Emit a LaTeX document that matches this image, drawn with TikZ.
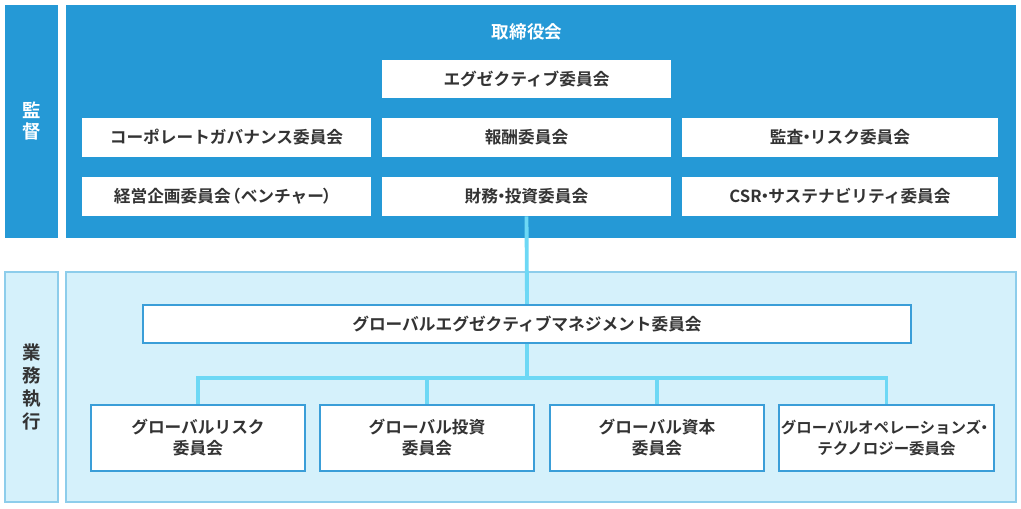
\documentclass[tikz,border=0pt]{standalone}
\usepackage{fontspec}
\setmainfont{Noto Sans CJK JP}[BoldFont={Noto Sans CJK JP Bold}]
\usetikzlibrary{positioning}
\definecolor{topblue}{HTML}{2599D6}
\definecolor{paleblue}{HTML}{D5F1FB}
\definecolor{paleedge}{HTML}{8DCDEB}
\definecolor{boxedge}{HTML}{3A9ED8}
\definecolor{linkcyan}{HTML}{6DD8F5}
\definecolor{txt}{HTML}{333333}
\tikzset{
	whitebox/.style={fill=white,draw=none,inner sep=0pt,text=txt,align=center,font=\bfseries\fontsize{9.5}{12}\selectfont},
	lowbox/.style={fill=white,draw=boxedge,line width=1.2pt,inner sep=0pt,text=txt,align=center,font=\bfseries\fontsize{9.5}{12}\selectfont},
	link/.style={draw=linkcyan,line width=2.2pt}
}
\begin{document}
\begin{tikzpicture}[x=0.02cm,y=-0.02cm]

	\useasboundingbox (0,0) rectangle (1021,508);

	% supervision
	\fill[topblue] (5,5) rectangle (58,238);
	\fill[topblue] (66,5) rectangle (1016,238);
	\node[text=white,align=center,font=\bfseries\fontsize{10.5}{12}\selectfont] (kantoku) at (31.5,121) {監\\督};
	\node[text=white,font=\bfseries\fontsize{10}{12}\selectfont] (board) at (527,32) {取締役会};

	\node[whitebox,minimum width=289*0.02cm,minimum height=38*0.02cm] (exec) at (526.5,79) {エグゼクティブ委員会};

	\node[whitebox,minimum width=289*0.02cm,minimum height=39*0.02cm] (cg) at (226.5,137.5) {コーポレートガバナンス委員会};
	\node[whitebox,minimum width=289*0.02cm,minimum height=39*0.02cm] (comp) at (526.5,137.5) {報酬委員会};
	\node[whitebox,minimum width=316*0.02cm,minimum height=39*0.02cm] (audit) at (840,137.5) {監査\hspace{-0.3em}・\hspace{-0.3em}リスク委員会};
	\node[whitebox,minimum width=289*0.02cm,minimum height=39*0.02cm] (plan) at (226.5,196.5) {経営企画委員会\hspace{-0.4em}（ベンチャー\hspace{-0.1em}）};
	\node[whitebox,minimum width=289*0.02cm,minimum height=39*0.02cm] (fin) at (526.5,196.5) {財務\hspace{-0.3em}・\hspace{-0.3em}投資委員会};
	\node[whitebox,minimum width=316*0.02cm,minimum height=39*0.02cm] (csr) at (840,196.5) {CSR\hspace{-0.3em}・\hspace{-0.3em}サステナビリティ委員会};

	% execution
	\draw[fill=paleblue,draw=paleedge,line width=0.8pt] (5,272) rectangle (58,502);
	\draw[fill=paleblue,draw=paleedge,line width=0.8pt] (66,272) rectangle (1016,502);
	\node[text=txt,align=center,font=\bfseries\fontsize{10.5}{13}\selectfont] (gyomu) at (31.5,387) {業\\務\\執\\行};

	\node[lowbox,minimum width=768*0.02cm,minimum height=38*0.02cm] (gemc) at (527,324) {グローバルエグゼクティブマネジメント委員会};

	\node[lowbox,minimum width=214*0.02cm,minimum height=66*0.02cm] (risk) at (198,438) {グローバルリスク\\委員会};
	\node[lowbox,minimum width=214*0.02cm,minimum height=66*0.02cm] (inv) at (427,438) {グローバル投資\\委員会};
	\node[lowbox,minimum width=214*0.02cm,minimum height=66*0.02cm] (cap) at (657,438) {グローバル資本\\委員会};
	\node[lowbox,minimum width=215*0.02cm,minimum height=66*0.02cm,font=\bfseries\fontsize{8.8}{12}\selectfont] (ops) at (886.5,438) {グローバルオペレーションズ\hspace{-0.3em}・\hspace{-0.4em}\\テクノロジー委員会};

	\coordinate (split) at (527,378);
	\draw[link] (fin.south) -- (gemc.north);
	\draw[link] (gemc.south) -- (split);
	\draw[link] (risk.north) |- (split) -| (ops.north);
	\draw[link] (inv.north) -- (inv.north |- split);
	\draw[link] (cap.north) -- (cap.north |- split);

\end{tikzpicture}
\end{document}
